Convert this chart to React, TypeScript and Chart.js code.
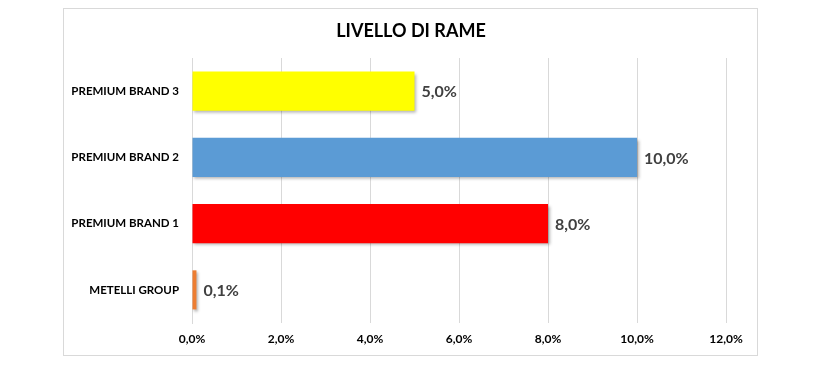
import React, { useEffect, useRef } from "react";
import { Chart, registerables } from "chart.js";

Chart.register(...registerables);

const TITLE = "LIVELLO DI RAME";
const categories = ["PREMIUM BRAND 3", "PREMIUM BRAND 2", "PREMIUM BRAND 1", "METELLI GROUP"];
const values = [5.0, 10.0, 8.0, 0.1];
const barColors = ["#FFFF00", "#5B9BD5", "#FF0000", "#ED7D31"];
const axisMin = 0;
const axisMax = 12;
const axisStep = 2;

const FONT = "Lato, 'Open Sans', 'DejaVu Sans', sans-serif";
const fmt = (v: number) => v.toFixed(1).replace(".", ",") + "%";

export default function App() {
  const ref = useRef<HTMLCanvasElement>(null);

  useEffect(() => {
    document.body.style.margin = "0";
    const canvas = ref.current!;
    const framePlugin = {
      id: "frame",
      beforeDraw(chart: any) {
        const ctx = chart.ctx;
        ctx.save();
        ctx.fillStyle = "#ffffff";
        ctx.fillRect(0, 0, chart.width, chart.height);
        ctx.strokeStyle = "#d9d9d9";
        ctx.lineWidth = 1;
        ctx.strokeRect(63.5, 8.5, 694, 347);
        ctx.fillStyle = "#000000";
        ctx.font = `bold 18px ${FONT}`;
        ctx.textAlign = "center";
        ctx.textBaseline = "middle";
        ctx.fillText(TITLE, 411, 31);
        ctx.restore();
      },
    };
    const shadowPlugin = {
      id: "shadow",
      beforeDatasetsDraw(chart: any) {
        const ctx = chart.ctx;
        ctx.save();
        ctx.shadowColor = "rgba(0,0,0,0.3)";
        ctx.shadowOffsetX = 1.5;
        ctx.shadowOffsetY = 2;
        ctx.shadowBlur = 3;
      },
      afterDatasetsDraw(chart: any) {
        chart.ctx.restore();
      },
    };
    const labelPlugin = {
      id: "valueLabels",
      afterDraw(chart: any) {
        const ctx = chart.ctx;
        const meta = chart.getDatasetMeta(0);
        ctx.save();
        ctx.fillStyle = "#404040";
        ctx.font = `bold 16px ${FONT}`;
        ctx.textAlign = "left";
        ctx.textBaseline = "middle";
        meta.data.forEach((bar: any, i: number) => {
          ctx.fillText(fmt(values[i]), bar.x + 7, bar.y + 1);
        });
        ctx.restore();
      },
    };

    const chart = new Chart(canvas, {
      type: "bar",
      data: {
        labels: categories,
        datasets: [
          {
            data: values,
            backgroundColor: barColors,
            borderWidth: 0,
            barPercentage: 0.59,
            categoryPercentage: 1,
          },
        ],
      },
      options: {
        indexAxis: "y",
        animation: false,
        responsive: false,
        maintainAspectRatio: false,
        layout: { padding: { left: 0, top: 58, right: 96, bottom: 0 } },
        plugins: {
          legend: { display: false },
          title: { display: false },
          tooltip: { enabled: false },
        },
        scales: {
          x: {
            min: axisMin,
            max: axisMax,
            ticks: {
              stepSize: axisStep,
              callback: (v: any) => fmt(Number(v)),
              color: "#000000",
              font: { family: FONT, size: 12, weight: "bold" },
              padding: 9,
            },
            grid: { color: "#d9d9d9", drawTicks: false },
            border: { display: false },
            afterFit: (s: any) => {
              s.height = 42;
            },
          },
          y: {
            ticks: {
              color: "#000000",
              font: { family: FONT, size: 11.5, weight: "bold" },
              padding: 13,
            },
            grid: { display: false, drawTicks: false },
            border: { display: true, color: "#d9d9d9" },
            afterFit: (s: any) => {
              s.width = 192;
            },
          },
        },
      },
      plugins: [framePlugin, shadowPlugin, labelPlugin],
    });
    return () => chart.destroy();
  }, []);

  return (
    <div style={{ position: "absolute", left: 0, top: 0, width: 822, height: 365 }}>
      <canvas ref={ref} width={822} height={365} style={{ width: 822, height: 365 }} />
    </div>
  );
}
